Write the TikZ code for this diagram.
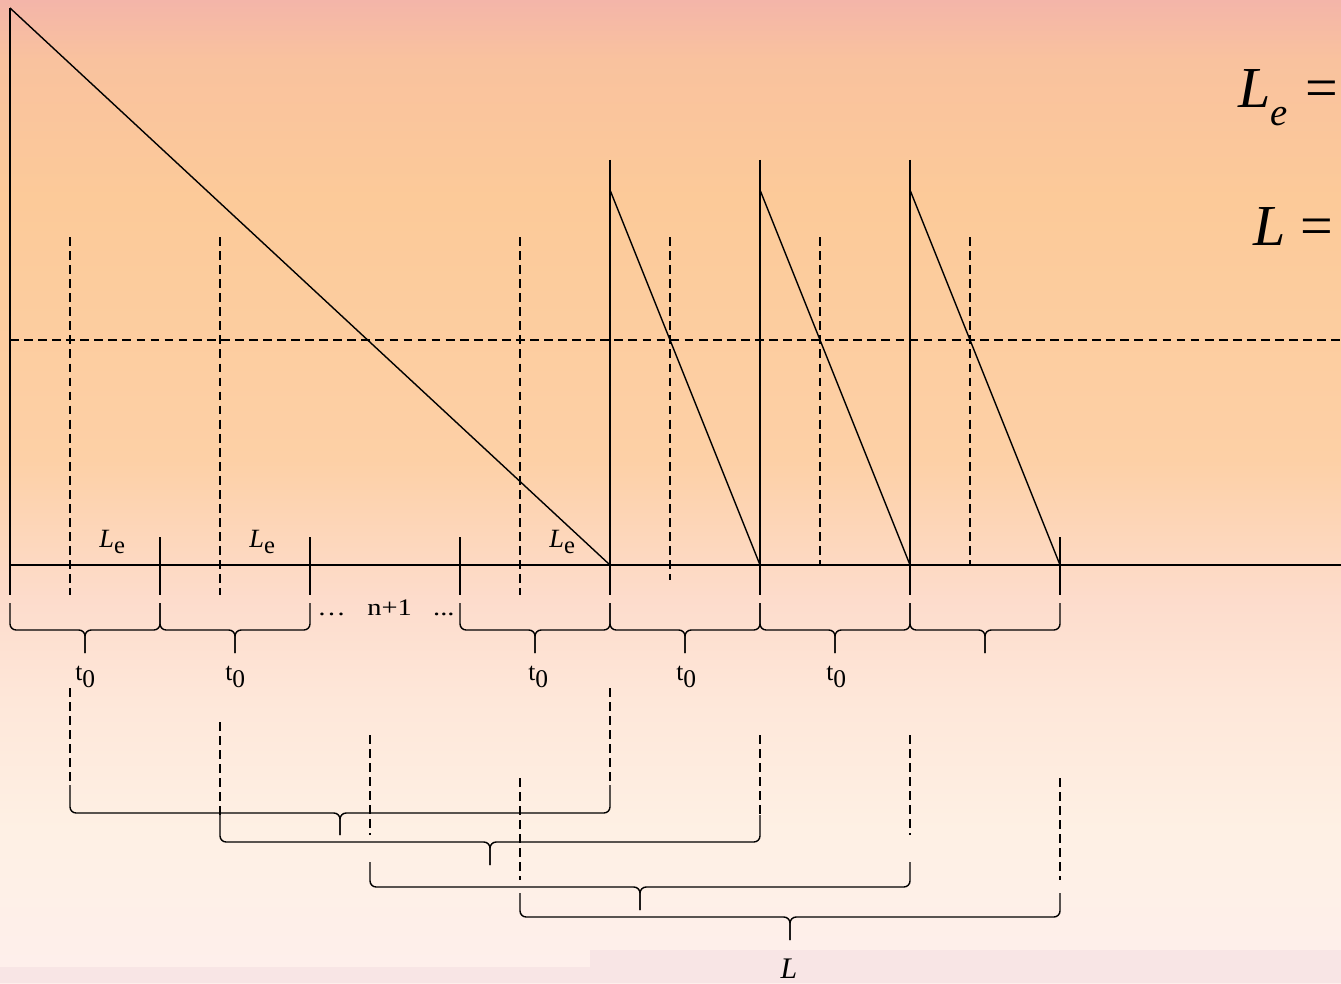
\documentclass[tikz,border=0pt]{standalone}
\usepackage{fontspec}
\setmainfont{Liberation Serif}
\usetikzlibrary{positioning}

\definecolor{bgA}{HTML}{F4B5A9}
\definecolor{bgB}{HTML}{F9C29E}
\definecolor{bgC}{HTML}{FCCA99}
\definecolor{bgD}{HTML}{FDD0A6}
\definecolor{bgE}{HTML}{FDDCCC}
\definecolor{bgF}{HTML}{FEE7D9}
\definecolor{bgG}{HTML}{FEF0E4}
\definecolor{bgH}{HTML}{FEEFEC}
\definecolor{bgS}{HTML}{F8E5E5}

\begin{document}
\begin{tikzpicture}[x=0.02cm, y=-0.02cm,
  ln/.style={line width=0.8pt, draw=black},
  dln/.style={ln, dash pattern=on 5pt off 3pt},
  brc/.style={ln, rounded corners=3.5pt},
  lbl/.style={inner sep=0pt, font=\fontsize{14.5}{16}\selectfont},
  big/.style={inner sep=0pt, anchor=base west, font=\fontsize{33}{36}\selectfont},
]
\useasboundingbox (0,0) rectangle (1341,983);
% background
\shade[top color=bgA, bottom color=bgB] (0,0) rectangle (1341,60);
\shade[top color=bgB, bottom color=bgC] (0,60) rectangle (1341,200);
\shade[top color=bgC, bottom color=bgD] (0,200) rectangle (1341,460);
\shade[top color=bgD, bottom color=bgE] (0,460) rectangle (1341,600);
\shade[top color=bgE, bottom color=bgF] (0,600) rectangle (1341,700);
\shade[top color=bgF, bottom color=bgG] (0,700) rectangle (1341,830);
\shade[top color=bgG, bottom color=bgH] (0,830) rectangle (1341,983);
\fill[bgS] (0,967) rectangle (590,983);
\fill[bgS] (590,950) rectangle (1341,983);

% axes and sawtooth
\draw[ln] (10,565) -- (1341,565);
\draw[dln] (10,340) -- (1341,340);
\draw[ln] (10,8) -- (10,595);
\draw[ln] (10,8) -- (610,565);
\foreach \x in {610,760,910}{
  \draw[ln] (\x,160) -- (\x,595);
  \draw[ln] (\x,190) -- (\x+150,565);
}
\foreach \x in {160,310,460,1060}
  \draw[ln] (\x,537) -- (\x,595);
\foreach \x in {70,220,520}
  \draw[dln] (\x,237) -- (\x,595);
\draw[dln] (670,237) -- (670,580);
\foreach \x in {820,970}
  \draw[dln] (\x,237) -- (\x,565);

% labels on the axis
\foreach \x/\n in {99/a,249/b,549/c}
  \node[lbl, anchor=base west] (le\n) at (\x,547)
    {\fontsize{15}{16}\selectfont\textit{L}\raisebox{-3.5pt}{\fontsize{14}{16}\selectfont e}};

% upper braces
\foreach \a/\b in {10/160,160/310,460/610,610/760,760/910,910/1060}{
  \draw[brc] (\a,603) -- (\a,630) -- ({(\a+\b)/2},630) -- ({(\a+\b)/2},653);
  \draw[brc] (\b,603) -- (\b,630) -- ({(\a+\b)/2},630) -- ({(\a+\b)/2},653);
}
\foreach \x/\n in {75/a,225/b,528/c,676/d,826/e}
  \node[lbl, anchor=base west] (t\n) at (\x,680) {t\raisebox{-4.4pt}{0}};
\node[lbl, font=\fontsize{13.5}{15}\selectfont] (cnt) at (386,608)
  {\scalebox{1.2}[1]{…\hspace{0.75em}n+1\hspace{0.75em}...}};

% lower braces
\draw[dln] (70,688) -- (70,785);
\draw[dln] (610,688) -- (610,785);
\draw[dln] (220,722) -- (220,815);
\draw[dln] (760,735) -- (760,815);
\foreach \x in {370,910}
  \draw[dln] (\x,735) -- (\x,835);
\foreach \x in {520,1060}
  \draw[dln] (\x,778) -- (\x,880);
\foreach \a/\b/\t/\m/\p in {70/610/785/813/835,220/760/815/842/865,370/910/862/887/910,520/1060/893/917/940}{
  \draw[brc] (\a,\t) -- (\a,\m) -- ({(\a+\b)/2},\m) -- ({(\a+\b)/2},\p);
  \draw[brc] (\b,\t) -- (\b,\m) -- ({(\a+\b)/2},\m) -- ({(\a+\b)/2},\p);
}
\node[lbl, font=\fontsize{17}{19}\selectfont\itshape] (ltot) at (789,969) {L};

% formulas, cut at the right edge
\node[big] (fle) at (1238,108) {\textit{L}\raisebox{-0.3em}{\fontsize{22}{24}\selectfont\textit{e}}\hspace{0.3em}=};
\node[big] (fl) at (1253,245) {\textit{L}\hspace{0.25em}=};
\end{tikzpicture}
\end{document}
